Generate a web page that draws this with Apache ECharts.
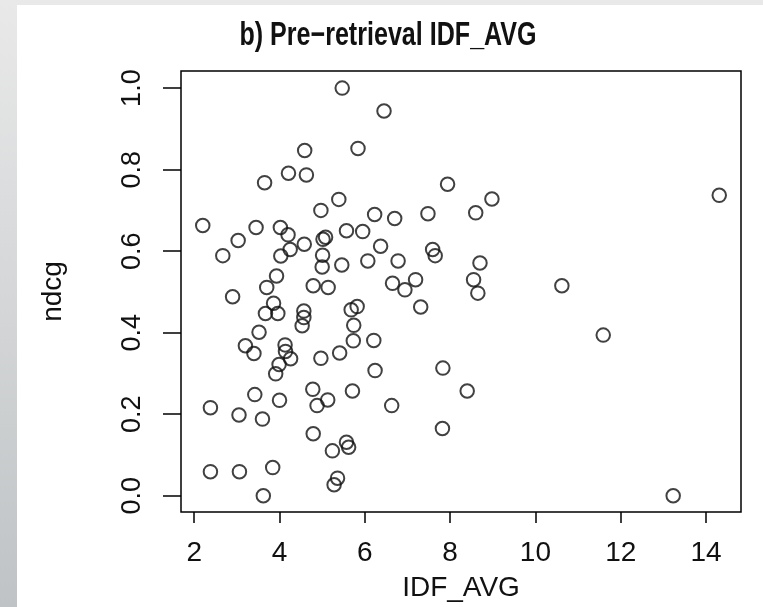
<!DOCTYPE html>
<html>
<head>
<meta charset="utf-8">
<script src="https://cdn.jsdelivr.net/npm/echarts@6/dist/echarts.min.js"></script>
<style>
  html, body { margin: 0; padding: 0; background: #ffffff; }
  #chart { width: 763px; height: 607px; }
</style>
</head>
<body>
<div id="chart"></div>
<script>
// Query-level observations: average IDF of query terms vs. retrieval effectiveness
const idfAvg = [
  5.47, 6.45, 4.59, 5.84, 4.21, 4.63, 3.65, 7.94, 5.39, 8.98,
  14.31, 4.97, 2.20, 6.23, 6.70, 7.48, 8.60, 3.45, 4.02, 4.20,
  3.03, 5.08, 5.02, 5.57, 5.95, 4.58, 4.25, 2.67, 4.03, 6.37,
  7.59, 7.65, 5.01, 5.00, 5.46, 6.07, 6.78, 8.70, 3.93, 8.55,
  7.19, 6.65, 3.70, 4.79, 5.14, 6.94, 10.62, 8.65, 2.90, 7.31,
  3.86, 3.67, 3.96, 4.57, 4.57, 4.53, 5.68, 5.82, 5.74, 3.52,
  11.59, 3.20, 3.40, 4.13, 4.14, 4.26, 3.99, 3.91, 4.97, 5.41,
  5.73, 6.21, 6.24, 7.83, 8.40, 3.42, 4.00, 2.38, 3.05, 3.60,
  4.78, 4.88, 5.13, 5.71, 6.63, 7.82, 4.79, 5.24, 5.57, 5.62,
  2.38, 3.06, 3.84, 5.36, 5.28, 3.62, 13.23
];
const ndcg = [
  1.000, 0.944, 0.847, 0.852, 0.791, 0.787, 0.768, 0.764, 0.727, 0.728,
  0.737, 0.700, 0.663, 0.690, 0.680, 0.692, 0.694, 0.658, 0.658, 0.640,
  0.626, 0.634, 0.629, 0.650, 0.648, 0.617, 0.604, 0.589, 0.588, 0.612,
  0.604, 0.589, 0.590, 0.561, 0.566, 0.576, 0.576, 0.571, 0.539, 0.530,
  0.530, 0.521, 0.511, 0.515, 0.511, 0.505, 0.515, 0.497, 0.488, 0.463,
  0.472, 0.447, 0.447, 0.453, 0.437, 0.417, 0.456, 0.464, 0.418, 0.401,
  0.394, 0.368, 0.349, 0.370, 0.354, 0.336, 0.322, 0.299, 0.337, 0.350,
  0.380, 0.381, 0.307, 0.313, 0.257, 0.248, 0.234, 0.216, 0.198, 0.188,
  0.261, 0.221, 0.235, 0.257, 0.221, 0.165, 0.152, 0.110, 0.131, 0.119,
  0.059, 0.059, 0.069, 0.043, 0.027, 0.000, 0.000
];

const xTicks = [2, 4, 6, 8, 10, 12, 14];
const yTicks = [0.0, 0.2, 0.4, 0.6, 0.8, 1.0];

const titleText = 'b) Pre\u2212retrieval IDF_AVG';
const xName = 'IDF_AVG';
const yName = 'ndcg';

const points = idfAvg.map((x, i) => [x, ndcg[i]]);

const FONT = '"Liberation Sans", Arial, sans-serif';
const INK = '#111111';

const chart = echarts.init(document.getElementById('chart'), null, { renderer: 'canvas' });

chart.setOption({
  animation: false,
  backgroundColor: '#ffffff',
  graphic: [
    // slide-style frame: grey gradient band on the left and a thin strip on top
    {
      type: 'rect', z: -100, silent: true,
      shape: { x: 0, y: 0, width: 763, height: 607 },
      style: {
        fill: new echarts.graphic.LinearGradient(0, 0, 0, 1, [
          { offset: 0, color: '#e9e9e9' },
          { offset: 1, color: '#bfc3c5' }
        ])
      }
    },
    {
      type: 'rect', z: -99, silent: true,
      shape: { x: 17, y: 5, width: 746, height: 602 },
      style: { fill: '#ffffff' }
    },
    // condensed bold heading
    {
      type: 'text', z: 10, silent: true,
      x: 388, y: 19,
      scaleX: 0.76, scaleY: 1,
      style: {
        text: titleText,
        fontFamily: FONT,
        fontWeight: 'bold',
        fontSize: 33,
        fill: INK,
        align: 'center',
        verticalAlign: 'top'
      }
    }
  ],
  grid: {
    left: 181,
    top: 71,
    right: 22,
    bottom: 88,
    show: true,
    backgroundColor: '#ffffff',
    borderColor: '#000000',
    borderWidth: 1.5,
    containLabel: false
  },
  xAxis: {
    type: 'value',
    min: 1.69,
    max: 14.82,
    name: xName,
    nameLocation: 'middle',
    nameGap: 62,
    nameTextStyle: { fontFamily: FONT, fontSize: 28, color: INK },
    axisLine: { show: false, onZero: false },
    splitLine: { show: false },
    axisTick: {
      show: true,
      length: 11,
      customValues: xTicks,
      lineStyle: { color: '#000', width: 1.5 }
    },
    axisLabel: {
      customValues: xTicks,
      margin: 27,
      fontFamily: FONT,
      fontSize: 28,
      color: INK,
      formatter: v => String(v)
    }
  },
  yAxis: {
    type: 'value',
    min: -0.04,
    max: 1.042,
    name: yName,
    nameLocation: 'middle',
    nameGap: 114,
    nameRotate: 90,
    nameTextStyle: { fontFamily: FONT, fontSize: 28, color: INK },
    axisLine: { show: false, onZero: false },
    splitLine: { show: false },
    axisTick: {
      show: true,
      length: 18,
      customValues: yTicks,
      lineStyle: { color: '#000', width: 1.5 }
    },
    axisLabel: {
      customValues: yTicks,
      rotate: 90,
      margin: 35,
      fontFamily: FONT,
      fontSize: 27,
      color: INK,
      formatter: v => v.toFixed(1)
    }
  },
  series: [{
    type: 'scatter',
    data: points,
    symbol: 'circle',
    symbolSize: 13.5,
    itemStyle: {
      color: 'rgba(0,0,0,0)',
      borderColor: '#111111',
      borderWidth: 2
    }
  }]
});
</script>
</body>
</html>
